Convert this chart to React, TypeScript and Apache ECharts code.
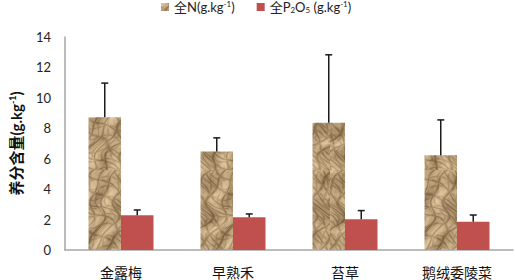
import React, { useEffect, useRef } from "react";
import * as echarts from "echarts";

const categories = ["金露梅", "早熟禾", "苔草", "鹅绒委陵菜"];
const nValues = [8.73, 6.47, 8.36, 6.23];
const nErrors = [2.24, 0.9, 4.47, 2.32];
const pValues = [2.28, 2.15, 2.02, 1.86];
const pErrors = [0.35, 0.22, 0.57, 0.44];
const yTicks = { min: 0, max: 14, interval: 2 };

const FONT = "Lato, 'Noto Sans CJK SC', sans-serif";
const BAR_PCT = 0.29;

function makeTexture(): string {
  const w = 66;
  const h = 170;
  const c = document.createElement("canvas");
  c.width = w;
  c.height = h;
  const ctx = c.getContext("2d")!;
  const img = ctx.createImageData(w, h);
  const dirs = [
    [0.23, 0.11, 0.0, 0.8],
    [-0.17, 0.21, 1.3, 0.7],
    [0.09, -0.31, 2.1, 0.5],
    [0.31, 0.05, 0.7, 0.45],
  ];
  for (let y = 0; y < h; y++) {
    for (let x = 0; x < w; x++) {
      const wx = x + 6 * Math.sin(y * 0.09) + 3 * Math.sin(y * 0.21 + 1);
      const wy = y + 5 * Math.sin(x * 0.13 + 2);
      let crease = 0;
      for (const [a, b, p, amp] of dirs) {
        const s = Math.abs(Math.sin(wx * a + wy * b + p));
        crease = Math.max(crease, amp * Math.exp(-(s / 0.3) * (s / 0.3)));
      }
      const shade = Math.sin(wx * 0.2 + wy * 0.15) * Math.cos(wy * 0.07 - wx * 0.05);
      const fine = 0.05 * Math.sin(wx * 0.9 + wy * 0.4) * Math.sin(wy * 0.7 - wx * 0.3);
      let t = 0.74 + 0.2 * shade - 0.45 * crease + fine;
      t = Math.max(0, Math.min(1, t));
      const dark = [98, 70, 40];
      const light = [230, 204, 162];
      const i = (y * w + x) * 4;
      img.data[i] = dark[0] + (light[0] - dark[0]) * t;
      img.data[i + 1] = dark[1] + (light[1] - dark[1]) * t;
      img.data[i + 2] = dark[2] + (light[2] - dark[2]) * t;
      img.data[i + 3] = 255;
    }
  }
  ctx.putImageData(img, 0, 0);
  return c.toDataURL();
}

function errorSeries(values: number[], errors: number[], side: number) {
  return {
    type: "custom",
    silent: true,
    z: 5,
    data: values.map((v, i) => [i, v, v + errors[i]]),
    renderItem: (params: any, api: any) => {
      const idx = api.value(0);
      const base = api.coord([idx, api.value(1)]);
      const top = api.coord([idx, api.value(2)]);
      const catW = api.size([1, 0])[0];
      const x = base[0] + side * (catW * BAR_PCT) / 2;
      const cap = 3.5;
      const style = { stroke: "#1a1a1a", lineWidth: 1.5 };
      return {
        type: "group",
        children: [
          { type: "line", shape: { x1: x, y1: base[1], x2: x, y2: top[1] }, style },
          { type: "line", shape: { x1: x - cap, y1: top[1], x2: x + cap, y2: top[1] }, style },
        ],
      };
    },
  };
}

export default function App() {
  const ref = useRef<HTMLDivElement>(null);
  useEffect(() => {
    document.body.style.margin = "0";
    if (!ref.current) return;
    const chart = echarts.init(ref.current, null, { renderer: "svg" });
    const tex = makeTexture();
    const texColor: any = { image: tex, repeat: "repeat", imageWidth: 66, imageHeight: 170 };
    const rich = {
      a: { fontSize: 13, fontFamily: FONT, color: "#222" },
      sup: { fontSize: 8, fontFamily: FONT, color: "#222", verticalAlign: "top", padding: [0, 0, 6, 0] },
      sub: { fontSize: 8, fontFamily: FONT, color: "#222", padding: [6, 0, 0, 0] },
    };
    chart.setOption({
      animation: false,
      backgroundColor: "#fff",
      legend: {
        top: -5,
        left: 156,
        itemWidth: 8,
        itemHeight: 8,
        itemGap: 22,
        icon: "rect",
        data: ["全N", "全P2O5"],
        formatter: (name: string) =>
          name === "全N"
            ? "{a|全N(g.kg}{sup|-1}{a|)}"
            : "{a|全P}{sub|2}{a|O}{sub|5}{a| (g.kg}{sup|-1}{a|)}",
        textStyle: { rich, fontFamily: FONT, fontSize: 13 },
      },
      grid: { left: 56, right: 2, top: 37, bottom: 30 },
      xAxis: {
        type: "category",
        data: categories,
        axisLine: { lineStyle: { color: "#a6a6a6", width: 1.5 } },
        axisTick: { show: false },
        axisLabel: { fontSize: 14, color: "#111", fontFamily: FONT, margin: 15 },
      },
      yAxis: {
        type: "value",
        min: yTicks.min,
        max: yTicks.max,
        interval: yTicks.interval,
        splitLine: { show: false },
        axisLine: { show: true, lineStyle: { color: "#a6a6a6", width: 1.5 } },
        axisTick: { show: false },
        axisLabel: { fontSize: 13, color: "#222", fontFamily: FONT, margin: 14 },
        name: "{b|养分含量(g.kg}{bs|-1}{b|)}",
        nameLocation: "middle",
        nameRotate: 90,
        nameGap: 41,
        nameTextStyle: {
          rich: {
            b: { fontSize: 15, fontWeight: "bold", fontFamily: FONT, color: "#111" },
            bs: { fontSize: 9, fontWeight: "bold", fontFamily: FONT, color: "#111", padding: [0, 0, 7, 0] },
          },
        },
      },
      series: [
        {
          name: "全N",
          type: "bar",
          data: nValues,
          barWidth: `${BAR_PCT * 100}%`,
          barGap: "0%",
          itemStyle: { color: texColor },
        },
        {
          name: "全P2O5",
          type: "bar",
          data: pValues,
          barWidth: `${BAR_PCT * 100}%`,
          barGap: "0%",
          itemStyle: { color: "#c0504d" },
        },
        errorSeries(nValues, nErrors, -1),
        errorSeries(pValues, pErrors, 1),
      ],
    });
    return () => chart.dispose();
  }, []);
  return <div ref={ref} style={{ width: 515, height: 280 }} />;
}
